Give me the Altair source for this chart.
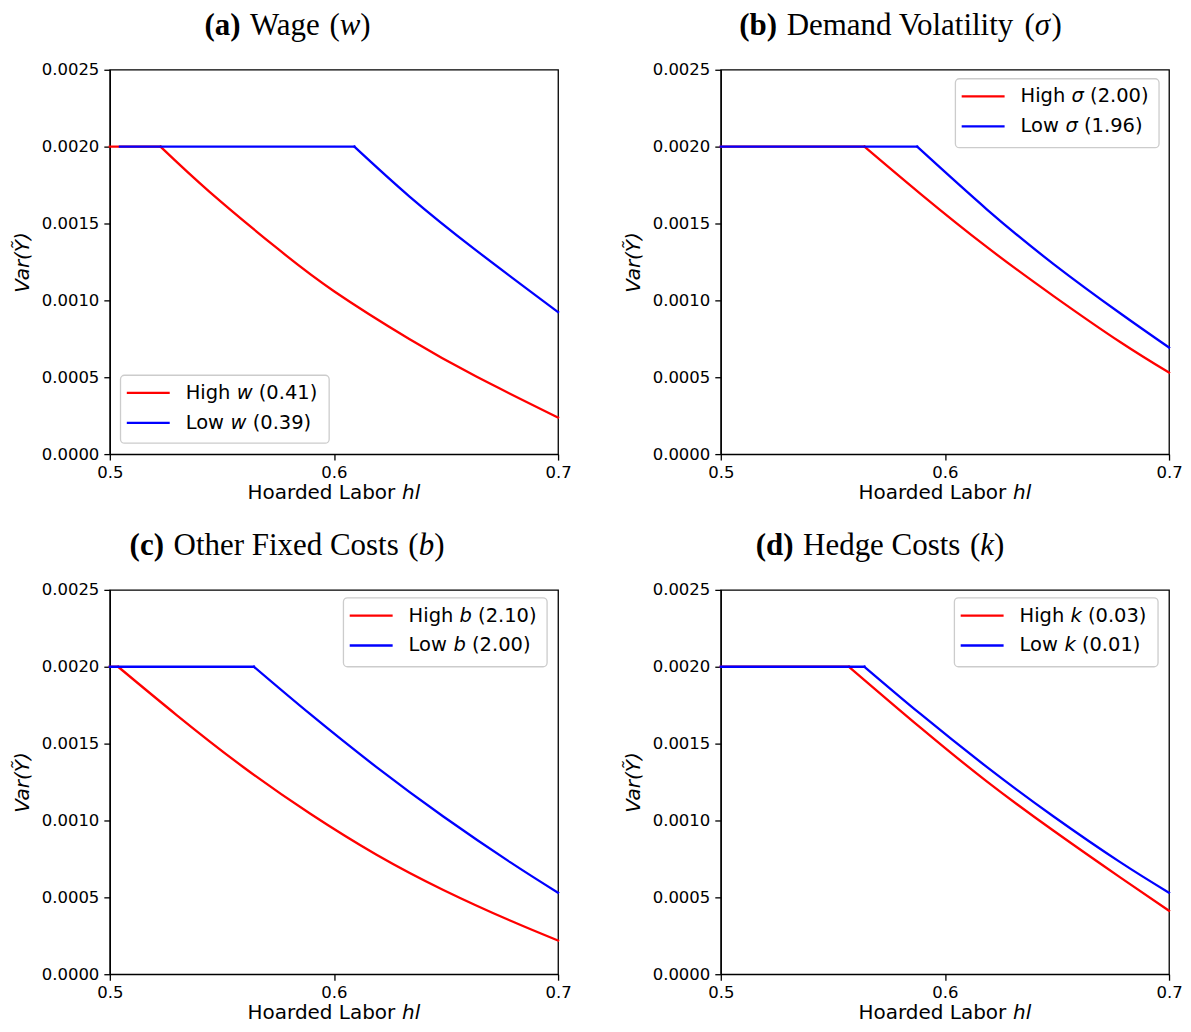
import altair as alt
import pandas as pd

# ---------------- data ----------------
FLAT_Y = 0.0020

A_HIGH_FLAT_X = [0.500, 0.5226]
A_HIGH_CURVE_X = [0.5226, 0.5445, 0.5742, 0.6002, 0.6336, 0.6633, 0.700]
A_HIGH_CURVE_Y = [0.00200, 0.001706, 0.001344, 0.001058, 0.000749, 0.000506, 0.000238]
A_LOW_FLAT_X = [0.5045, 0.6091]
A_LOW_CURVE_X = [0.6091, 0.6336, 0.6633, 0.700]
A_LOW_CURVE_Y = [0.00200, 0.001677, 0.001327, 0.000924]

B_HIGH_FLAT_X = [0.500, 0.5641]
B_HIGH_CURVE_X = [0.5641, 0.5891, 0.6188, 0.6485, 0.6782, 0.700]
B_HIGH_CURVE_Y = [0.00200, 0.001693, 0.001346, 0.001028, 0.000729, 0.000530]
B_LOW_FLAT_X = [0.500, 0.5876]
B_LOW_CURVE_X = [0.5876, 0.6188, 0.6485, 0.6782, 0.700]
B_LOW_CURVE_Y = [0.00200, 0.001591, 0.001236, 0.000916, 0.000693]

C_HIGH_FLAT_X = [0.500, 0.5037]
C_HIGH_CURVE_X = [0.5037, 0.5298, 0.5595, 0.5893, 0.6190, 0.6488, 0.6786, 0.700]
C_HIGH_CURVE_Y = [0.00200, 0.001686, 0.001348, 0.001045, 0.000777, 0.000548, 0.000349, 0.000219]
C_LOW_FLAT_X = [0.500, 0.5643]
C_LOW_CURVE_X = [0.5643, 0.5893, 0.6190, 0.6488, 0.6786, 0.700]
C_LOW_CURVE_Y = [0.00200, 0.001693, 0.001347, 0.001026, 0.000729, 0.000530]

D_HIGH_FLAT_X = [0.500, 0.5572]
D_HIGH_CURVE_X = [0.5572, 0.5891, 0.6188, 0.6485, 0.6782, 0.700]
D_HIGH_CURVE_Y = [0.00200, 0.001604, 0.001253, 0.000933, 0.000630, 0.000413]
D_LOW_FLAT_X = [0.500, 0.5641]
D_LOW_CURVE_X = [0.5641, 0.5891, 0.6188, 0.6485, 0.6782, 0.700]
D_LOW_CURVE_Y = [0.00200, 0.001693, 0.001347, 0.001026, 0.000729, 0.000530]

TITLE_LETTERS = ["(a)", "(b)", "(c)", "(d)"]
TITLE_NAMES = ["Wage", "Demand Volatility", "Other Fixed Costs", "Hedge Costs"]
SYMBOLS = ["w", "σ", "b", "k"]
HIGH_VALUES = ["0.41", "2.00", "2.10", "0.03"]
LOW_VALUES = ["0.39", "1.96", "2.00", "0.01"]
X_TICKS = [0.5, 0.6, 0.7]
Y_TICKS = [0.0, 0.0005, 0.0010, 0.0015, 0.0020, 0.0025]
X_LABEL_MAIN = "Hoarded Labor"
X_LABEL_VAR = "hl"
Y_LABEL = "Var(Ỹ)"

# ---------------- layout / style ----------------
W, H = 449, 385
RED, BLUE = "#ff0000", "#0000ff"
SANS = "DejaVu Sans"
SERIF = "Liberation Serif"
TITLE_SIZE = 31
LEG_SIZE = 19.5
XT_SIZE = 20

SANS_W = {" ": 651, "(": 799, ")": 799, ".": 651, "H": 1540, "i": 569, "g": 1300,
          "h": 1298, "L": 1141, "o": 1253, "w": 1675, "a": 1255, "r": 842, "d": 1300,
          "e": 1260, "b": 1300, "l": 569, "k": 1186, "σ": 1300}
for _d in "0123456789":
    SANS_W[_d] = 1303

SERIF_R = {" ": 250, "(": 333, ")": 333, "a": 444, "b": 500, "c": 444, "d": 500, "e": 444,
           "g": 500, "h": 500, "i": 278, "l": 278, "m": 778, "n": 500, "o": 500, "r": 333,
           "s": 389, "t": 278, "x": 500, "y": 500, "C": 667, "D": 722, "F": 556, "H": 722,
           "O": 722, "V": 722, "W": 944}
SERIF_B = {"(": 333, ")": 333, "a": 500, "b": 556, "c": 444, "d": 556}
SERIF_I = {"w": 667, "b": 500, "k": 444, "σ": 540}
SERIF_KERN = {"Vo": -100, "Wa": -80}


def sans_w(s, size, kind="r"):
    return sum(SANS_W.get(c, 1250) for c in s) / 2048 * size


def serif_w(s, size, kind="r"):
    table = {"r": SERIF_R, "b": SERIF_B, "i": SERIF_I}[kind]
    total = sum(table.get(c, SERIF_R.get(c, 500)) for c in s)
    if kind == "r":
        total += sum(SERIF_KERN.get(s[k:k + 2], 0) for k in range(len(s) - 1))
    return total / 1000 * size


def text_run(pieces, y, font, size, x_center=None, x_start=None, baseline="alphabetic"):
    """pieces: list of (gap_before_px, text, weight, style, kind). Adjacent text marks."""
    measure = sans_w if font == SANS else serif_w
    widths = [measure(t, size, k) for _, t, _, _, k in pieces]
    total = sum(widths) + sum(g for g, *_ in pieces)
    x = x_start if x_start is not None else x_center - total / 2
    layers = []
    for (gap, txt, weight, style, kind), wdt in zip(pieces, widths):
        x += gap
        layers.append(
            alt.Chart(pd.DataFrame({"t": [txt]}))
            .mark_text(align="left", baseline=baseline, font=font, fontSize=size,
                       fontWeight=weight, fontStyle=style, color="black")
            .encode(text="t:N", x=alt.value(x), y=alt.value(y))
        )
        x += wdt
    return layers


def make_panel(i, hfx, hcx, hcy, lfx, lcx, lcy, legend_pos, title_center):
    rows = []
    for xv in hfx:
        rows.append({"hl": xv, "v": FLAT_Y, "s": "High", "seg": "flat"})
    for xv, yv in zip(hcx, hcy):
        rows.append({"hl": xv, "v": yv, "s": "High", "seg": "curve"})
    for xv in lfx:
        rows.append({"hl": xv, "v": FLAT_Y, "s": "Low", "seg": "flat"})
    for xv, yv in zip(lcx, lcy):
        rows.append({"hl": xv, "v": yv, "s": "Low", "seg": "curve"})
    df = pd.DataFrame(rows)

    xenc = alt.X("hl:Q", scale=alt.Scale(domain=[0.5, 0.7], nice=False, zero=False),
                 axis=alt.Axis(values=X_TICKS, format=".1f", title=None, labelFlush=False,
                               labelOverlap=False, labelPadding=4))
    yenc = alt.Y("v:Q", scale=alt.Scale(domain=[0, 0.0025], nice=False, zero=True),
                 axis=alt.Axis(values=Y_TICKS, format=".4f", title=Y_LABEL, labelFlush=False,
                               labelOverlap=False, titleFontStyle="italic", titlePadding=9,
                               labelPadding=5))

    def line_layer(series, color):
        return (alt.Chart(df).transform_filter(alt.datum.s == series)
                .mark_line(interpolate="natural", strokeWidth=2.3, color=color, strokeCap="square")
                .encode(x=xenc, y=yenc, detail="seg:N", order="hl:Q"))

    layers = [line_layer("High", RED), line_layer("Low", BLUE)]

    # ---- custom legend (matplotlib style) ----
    bx, by = legend_pos
    bw, bh = (209, 68) if i == 0 else (204, 69)
    layers.append(
        alt.Chart(pd.DataFrame({"k": [0]}))
        .mark_rect(cornerRadius=4, fill="white", fillOpacity=0.8, stroke="#cccccc", strokeWidth=1.3)
        .encode(x=alt.value(bx), x2=alt.value(bx + bw), y=alt.value(by), y2=alt.value(by + bh))
    )
    sp = sans_w(" ", LEG_SIZE)
    for j, (label, val, color) in enumerate([("High", HIGH_VALUES[i], RED), ("Low", LOW_VALUES[i], BLUE)]):
        yy = by + 17.7 + 30 * j
        layers.append(
            alt.Chart(pd.DataFrame({"k": [0]}))
            .mark_rule(color=color, strokeWidth=2.3)
            .encode(x=alt.value(bx + 6.3), x2=alt.value(bx + 49.3), y=alt.value(yy))
        )
        pieces = [
            (0, label, "normal", "normal", "r"),
            (sp, SYMBOLS[i], "normal", "italic", "i"),
            (sp, "(" + val + ")", "normal", "normal", "r"),
        ]
        layers += text_run(pieces, yy, SANS, LEG_SIZE, x_start=bx + 65.3, baseline="middle")

    # ---- panel title ----
    gap = 0.31 * TITLE_SIZE
    t_pieces = [
        (0, TITLE_LETTERS[i], "bold", "normal", "b"),
        (gap, TITLE_NAMES[i], "normal", "normal", "r"),
        (gap, "(", "normal", "normal", "r"),
        (0, SYMBOLS[i], "normal", "italic", "i"),
        (0, ")", "normal", "normal", "r"),
    ]
    layers += text_run(t_pieces, -35, SERIF, TITLE_SIZE, x_center=title_center)

    # ---- x-axis title ----
    x_pieces = [
        (0, X_LABEL_MAIN, "normal", "normal", "r"),
        (sans_w(" ", XT_SIZE), X_LABEL_VAR, "normal", "italic", "i"),
    ]
    layers += text_run(x_pieces, H + 45, SANS, XT_SIZE, x_center=W / 2)

    return alt.layer(*layers).properties(width=W, height=H)


pa = make_panel(0, A_HIGH_FLAT_X, A_HIGH_CURVE_X, A_HIGH_CURVE_Y, A_LOW_FLAT_X, A_LOW_CURVE_X,
                A_LOW_CURVE_Y, (10.7, 306), 178)
pb = make_panel(1, B_HIGH_FLAT_X, B_HIGH_CURVE_X, B_HIGH_CURVE_Y, B_LOW_FLAT_X, B_LOW_CURVE_X,
                B_LOW_CURVE_Y, (235, 9), 180)
pc = make_panel(2, C_HIGH_FLAT_X, C_HIGH_CURVE_X, C_HIGH_CURVE_Y, C_LOW_FLAT_X, C_LOW_CURVE_X,
                C_LOW_CURVE_Y, (234, 8), 177.5)
pd_ = make_panel(3, D_HIGH_FLAT_X, D_HIGH_CURVE_X, D_HIGH_CURVE_Y, D_LOW_FLAT_X, D_LOW_CURVE_X,
                 D_LOW_CURVE_Y, (234, 8), 159.5)

chart = (
    alt.vconcat(
        alt.hconcat(pa, pb, spacing=50),
        alt.hconcat(pc, pd_, spacing=50),
        spacing=25,
    )
    .properties(padding={"left": 3, "top": 0, "right": 0, "bottom": 0}, background="white")
    .configure_view(stroke="black", strokeWidth=1.3)
    .configure_axis(
        labelFont=SANS, labelFontSize=16.5, labelColor="black",
        titleFont=SANS, titleFontSize=20, titleColor="black", titleFontWeight="normal",
        domainColor="black", domainWidth=1.3, tickColor="black", tickWidth=1.3, tickSize=6,
        grid=False,
    )
)

chart.save("out.html", embed_options={"renderer": "svg", "actions": False})
